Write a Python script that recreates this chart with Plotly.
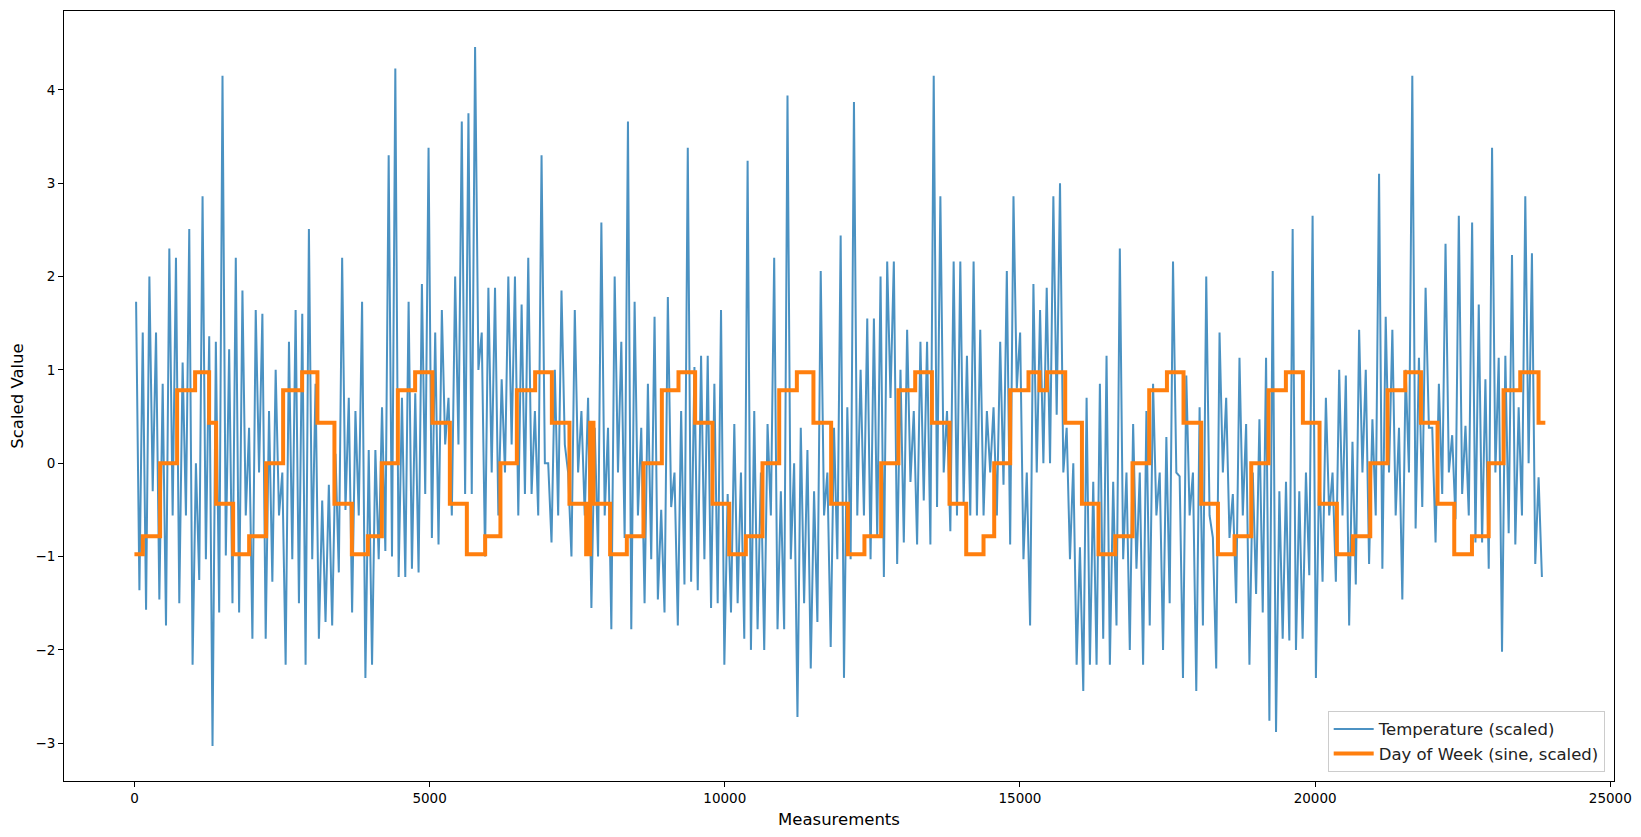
import plotly.graph_objects as go

# ---------------- data ----------------
N_MEAS = 23870          # last measurement index of the temperature series
N_BINS = 212            # temperature trace read as high/low extremes per bin

# Temperature (scaled): local high and low in each consecutive bin
temp_hi = [
    1.73, 1.4, 2.0, 1.4, 0.85, 2.3, 2.2, 1.08, 2.51, 0.0, 2.86, 1.36, 1.3, 4.15, 1.22, 2.2, 1.85, 0.38, 1.64, 1.6,
    0.56, 1.0, -0.1, 1.3, 1.64, 1.6, 2.51, 0.85,
    -0.4, -0.23, 0.1, 2.2, 0.7, 0.56, 1.73, 0.14, 0.14, 0.6, 3.3, 4.23, 0.7, 1.73, 0.75, 1.92, 3.38, 1.4, 1.64, 0.7,
    2.0, 3.66, 3.75, 4.46, 1.4, 1.88, 1.88, 0.9, 2.0, 2.0,
    1.7, 2.2, 0.56, 3.3, 0.0, 1.0, 1.85, -0.1, 1.64, 0.56, 0.7, 0.38, 2.58, 0.38, 2.0, 1.3, 3.66, 1.73, 0.38, 0.85,
    1.57, -0.5, 1.78, -0.1, 0.56, 3.38, 1.03, 1.15, 1.15,
    0.85, 1.64, -0.33, 0.42, -0.1, 3.24, 0.56, -0.1, 0.42, 2.2, -0.3, 3.94, 0.0, 0.38, 0.14, -0.3, 2.06, -0.1, 0.38, 2.44,
    0.6, 3.87, 1.0, 1.55, 1.55, 2.0, 2.16, 2.16, 1.0,
    1.43, 0.56, 1.3, 1.3, 4.15, 2.86, 0.56, 2.16, 2.16, 1.15, 2.16, 1.43, 0.56, 0.6, 1.3, 2.06, 2.86, 1.4, -0.1, 1.92,
    1.64, 1.88, 2.86, 3.0, 0.38, 0.0, -0.9, 0.7, -0.2,
    0.85, 1.15, -0.2, 2.3, -0.1, 0.42, -0.1, 0.56, 0.85, -0.1, 0.28, 2.16, -0.14, 0.94, -0.1, 0.6, 2.0, -0.8, 1.4, 0.7,
    -0.33, 1.13, 0.42, -0.1, 0.47, 1.13, 2.06, -0.3, -0.2,
    2.51, -0.3, -0.1, 2.65, 0.0, 0.7, -0.1, 1.0, 0.94, 0.23, 1.43, 1.0, 0.47, 3.1, 1.57, 1.43, 0.38, 1.0, 4.15, 1.13,
    1.88, 0.38, 0.85, 2.35, 0.3, 2.65, 0.4, 2.58, 1.7,
    0.9, 3.38, 1.13, 1.15, 2.23, 0.6, 2.86, 2.25, -0.15,
]
temp_lo = [
    -1.36, -1.57, -0.3, -1.46, -1.74, -0.56, -1.5, -0.56, -2.16, -1.25, -1.03, -3.03, -1.6, -0.99, -1.5, -1.6, -0.56,
    -1.88, -0.1, -1.88, -1.27, -0.56, -2.16, -1.03, -1.5, -2.16, -1.03, -1.88,
    -1.7, -1.74, -1.17, -0.5, -1.6, -0.56, -2.3, -2.16, -1.03, -0.94, -1.0, -1.22, -1.22, -1.13, -1.17, -0.33, -0.8,
    -0.87, 0.2, -0.56, 0.2, -0.33, -0.33, 1.0, -1.0, -0.1, -0.56, -0.1, 0.2, -0.56,
    -0.33, -0.33, -0.56, 0.0, -0.85, -0.56, 0.2, -1.0, -0.1, -0.56, -1.55, -1.0, -0.56, -1.78, -0.1, -0.8, -1.78,
    -0.56, -1.5, -1.03, -1.46, -1.6, -0.47, -1.74, -1.3, -1.27, -1.36, -1.03, -1.55,
    -1.5, -2.16, -1.6, -1.5, -1.88, -2.0, -1.78, -2.0, -0.56, -1.78, -1.78, -1.03, -2.72, -1.5, -2.2, -1.7, -0.56,
    -1.97, -1.03, -2.3, -1.03, -0.56, -0.56, -1.03, -0.8, -1.22, 0.7, -1.08, -0.85,
    -0.2, -0.87, -0.4, -0.87, -0.47, -0.1, -0.73, -0.56, -0.42, -0.56, -0.56, -0.56, -0.1, -0.56, -0.23, -0.87, 0.8,
    -1.03, -1.74, -0.1, 0.0, 0.0, 0.52, -0.1, -1.03, -2.16, -2.44, -2.16, -2.16,
    -1.88, -2.16, -1.74, -1.03, -2.0, -1.13, -2.16, -1.74, -0.56, -2.0, -1.5, -0.1, -2.3, -0.56, -2.44, -1.74, -0.56,
    -2.2, -0.1, -0.8, -1.5, -0.56, -2.16, -1.4, -1.6, -2.76, -2.88, -1.88, -1.9,
    -2.0, -1.88, -1.2, -2.3, -1.27, -0.56, -1.27, -0.56, -1.74, -1.3, -0.1, -1.08, -0.56, -1.13, -0.1, -0.56, -1.46,
    -0.1, -0.7, -0.47, 0.38, -0.85, -0.33, -0.1, -0.6, -0.33, -0.56, -0.85, -0.85,
    -1.13, -0.1, -2.02, -0.75, -0.87, -0.56, 0.0, -1.08, -1.22,
]

# Day of week (sine, scaled): measurement index where each level starts, and the level
dow_start = [
    0, 142, 435, 723, 1028, 1265, 1384, 1672, 1943, 2231, 2519, 2841,
    3100, 3388, 3683, 3954, 4191, 4462, 4755, 5048, 5343, 5631, 5941, 6200,
    6478, 6788, 7071, 7369, 7652, 7720, 7776, 8058, 8341, 8623, 8934, 9216, 9498,
    9792, 10075, 10357, 10639, 10922, 11221, 11502, 11802, 12085, 12366, 12649, 12942,
    13226, 13509, 13807, 14090, 14383, 14564, 14835, 15145, 15331, 15457, 15767, 16050,
    16331, 16614, 16907, 17190, 17490, 17771, 18071, 18354, 18635, 18918, 19211, 19505,
    19793, 20075, 20369, 20640, 20934, 21227, 21527, 21793, 22074, 22357, 22657,
    22940, 23192, 23475, 23785,
]
dow_value = [
    -0.975, -0.782, 0.0, 0.782, 0.975, 0.434, -0.434, -0.975, -0.782, 0.0, 0.782, 0.975,
    0.434, -0.434, -0.975, -0.782, 0.0, 0.782, 0.975, 0.434, -0.434, -0.975, -0.782, 0.0,
    0.782, 0.975, 0.434, -0.434, -0.975, 0.434, -0.434, -0.975, -0.782, 0.0, 0.782, 0.975, 0.434,
    -0.434, -0.975, -0.782, 0.0, 0.782, 0.975, 0.434, -0.434, -0.975, -0.782, 0.0, 0.782,
    0.975, 0.434, -0.434, -0.975, -0.782, 0.0, 0.782, 0.975, 0.782, 0.975, 0.434, -0.434,
    -0.975, -0.782, 0.0, 0.782, 0.975, 0.434, -0.434, -0.975, -0.782, 0.0, 0.782, 0.975,
    0.434, -0.434, -0.975, -0.782, 0.0, 0.782, 0.975, 0.434, -0.434, -0.975, -0.782,
    0.0, 0.782, 0.975, 0.434,
]
DOW_END = 23900

x_ticks = [0, 5000, 10000, 15000, 20000, 25000]
y_ticks = [-3, -2, -1, 0, 1, 2, 3, 4]

# ---------------- build traces ----------------
bin_w = N_MEAS / N_BINS
tx, ty = [], []
for j, (h, l) in enumerate(zip(temp_hi, temp_lo)):
    tx += [j * bin_w + 0.25 * bin_w, j * bin_w + 0.75 * bin_w]
    ty += [h, l]

dx = list(dow_start) + [DOW_END]
dy = list(dow_value) + [dow_value[-1]]

FONT = "DejaVu Sans"
fig = go.Figure()
fig.add_trace(go.Scatter(
    x=tx, y=ty, mode="lines", name="Temperature (scaled)",
    line=dict(color="#1f77b4", width=2), opacity=0.8,
))
fig.add_trace(go.Scatter(
    x=dx, y=dy, mode="lines", name="Day of Week (sine, scaled)",
    line=dict(color="#ff7f0e", width=4, shape="hv"),
))

axis_common = dict(
    showline=True, linecolor="black", linewidth=1, mirror=True,
    ticks="outside", ticklen=5, tickwidth=1, tickcolor="black",
    showgrid=False, zeroline=False,
    tickfont=dict(family=FONT, size=13.5, color="black"),
)
# page body has an 8 px margin, so the figure is sized/offset to land on the reference frame
fig.update_layout(
    width=1625, height=821,
    margin=dict(l=56, r=19, t=3, b=48),
    paper_bgcolor="white", plot_bgcolor="white",
    font=dict(family=FONT, color="black"),
    xaxis=dict(range=[-1193, 25063], tickvals=x_ticks, ticktext=[str(v) for v in x_ticks],
               title=dict(text="Measurements", font=dict(family=FONT, size=16.5), standoff=8),
               automargin=False, **axis_common),
    yaxis=dict(range=[-3.405, 4.845], tickvals=y_ticks,
               ticktext=[("\u2212" + str(-v)) if v < 0 else str(v) for v in y_ticks],
               title=dict(text="Scaled Value", font=dict(family=FONT, size=16.5), standoff=12),
               automargin=False, **axis_common),
    legend=dict(x=0.994, y=0.012, xanchor="right", yanchor="bottom",
                bgcolor="rgba(255,255,255,0.8)", bordercolor="#cccccc", borderwidth=1,
                font=dict(family=FONT, size=16.5, color="#222222"),
                tracegroupgap=0, itemwidth=40),
    showlegend=True,
)
fig.write_html("out.html")
